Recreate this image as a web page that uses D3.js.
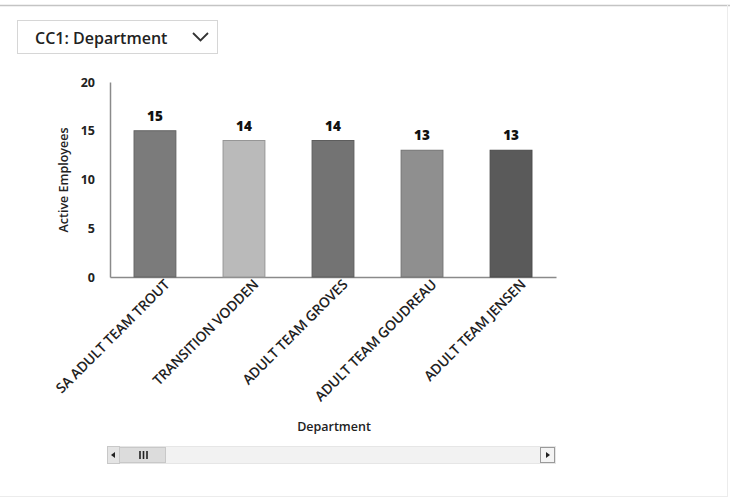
<!DOCTYPE html>
<html>
<head>
<meta charset="utf-8">
<script src="https://cdn.jsdelivr.net/npm/d3@7/dist/d3.min.js"></script>
<style>
  html, body { margin: 0; padding: 0; background: #fff; }
  svg { display: block; font-family: "Open Sans", "Noto Sans", sans-serif; }
</style>
</head>
<body>
<svg id="chart" width="730" height="501"></svg>
<script>
// Active employees per department
const departments = ["SA ADULT TEAM TROUT", "TRANSITION VODDEN", "ADULT TEAM GROVES", "ADULT TEAM GOUDREAU", "ADULT TEAM JENSEN"];
const employees = [15, 14, 14, 13, 13];
const barColors = ["#7b7b7b", "#bababa", "#737373", "#8f8f8f", "#5a5a5a"];
const yTicks = [0, 5, 10, 15, 20];

const svg = d3.select("#chart");

// Panel frame
svg.append("line").attr("x1", 0).attr("x2", 730).attr("y1", 5.5).attr("y2", 5.5)
  .attr("stroke", "#c4c4c4").attr("stroke-width", 1.5);
svg.append("line").attr("x1", 727.5).attr("x2", 727.5).attr("y1", 5).attr("y2", 497)
  .attr("stroke", "#ececec");
svg.append("line").attr("x1", 0).attr("x2", 728).attr("y1", 496.5).attr("y2", 496.5)
  .attr("stroke", "#ececec");

// Dropdown selector
const dd = svg.append("g");
dd.append("rect").attr("x", 17.5).attr("y", 20.5).attr("width", 200).attr("height", 33)
  .attr("fill", "#fff").attr("stroke", "#d6d6d6");
dd.append("text").attr("x", 35).attr("y", 43.5).attr("font-size", 16).attr("font-weight", 600)
  .attr("fill", "#222").text("CC1: Department");
dd.append("path").attr("d", "M193,33 L200.5,40.5 L208,33").attr("fill", "none")
  .attr("stroke", "#333").attr("stroke-width", 1.8);

// Scales
const x = d3.scaleBand().domain(departments).range([110, 556]).paddingInner(0.53).paddingOuter(0.27);
const y = d3.scaleLinear().domain([0, 20]).range([277, 82]);

// Y axis
const yAxis = svg.append("g").attr("transform", "translate(110,0)")
  .call(d3.axisLeft(y).tickValues(yTicks).tickSize(0).tickPadding(15));
yAxis.select(".domain").attr("stroke", "#8a8a8a").attr("stroke-width", 1.5);
yAxis.selectAll("text").attr("font-size", 12.5).attr("font-weight", 700).attr("fill", "#222")
  .attr("font-family", "'Open Sans', sans-serif");

// X axis with rotated category labels
const xAxis = svg.append("g").attr("transform", "translate(0,277)")
  .call(d3.axisBottom(x).tickSize(0).tickPadding(8));
xAxis.select(".domain").attr("stroke", "#8a8a8a").attr("stroke-width", 1.5);
xAxis.selectAll("text")
  .attr("font-size", 14).attr("font-weight", 600).attr("fill", "#222")
  .attr("font-family", "'Open Sans', sans-serif")
  .attr("letter-spacing", "-0.2px")
  .attr("text-anchor", "end")
  .attr("dy", "0.35em")
  .attr("transform", "translate(12,5) rotate(-45)")
  .attr("x", 0).attr("y", 0);

// Bars
svg.append("g").selectAll("rect").data(departments).join("rect")
  .attr("x", d => x(d))
  .attr("y", (d, i) => y(employees[i]))
  .attr("width", x.bandwidth())
  .attr("height", (d, i) => y(0) - y(employees[i]))
  .attr("fill", (d, i) => barColors[i])
  .attr("stroke", (d, i) => d3.color(barColors[i]).darker(0.6))
  .attr("stroke-width", 1);

// Value labels
svg.append("g").selectAll("text").data(departments).join("text")
  .attr("x", d => x(d) + x.bandwidth() / 2)
  .attr("y", (d, i) => y(employees[i]) - 10)
  .attr("text-anchor", "middle")
  .attr("font-size", 13.5).attr("font-weight", 800).attr("fill", "#111")
  .text((d, i) => employees[i]);

// Axis titles
svg.append("text").attr("transform", "translate(68,180) rotate(-90)")
  .attr("text-anchor", "middle").attr("font-size", 12.5).attr("font-weight", 600).attr("fill", "#222")
  .text("Active Employees");
svg.append("text").attr("x", 334).attr("y", 431)
  .attr("text-anchor", "middle").attr("font-size", 12.5).attr("font-weight", 600).attr("fill", "#222")
  .text("Department");

// Horizontal scrollbar
const sb = svg.append("g");
sb.append("rect").attr("x", 107.5).attr("y", 446.5).attr("width", 448).attr("height", 17)
  .attr("fill", "#f2f2f2").attr("stroke", "#e6e6e6");
sb.append("rect").attr("x", 107.5).attr("y", 446.5).attr("width", 12).attr("height", 17)
  .attr("fill", "#e4e4e4").attr("stroke", "#c8c8c8");
sb.append("path").attr("d", "M111,455 L115,452 L115,458 Z").attr("fill", "#222");
sb.append("rect").attr("x", 119.5).attr("y", 447.5).attr("width", 46).attr("height", 15)
  .attr("fill", "#dcdcdc").attr("stroke", "#c8c8c8");
[140, 143.5, 147].forEach(gx => {
  sb.append("line").attr("x1", gx).attr("x2", gx).attr("y1", 451).attr("y2", 459)
    .attr("stroke", "#222").attr("stroke-width", 1.6);
});
sb.append("rect").attr("x", 540.5).attr("y", 447.5).attr("width", 14).attr("height", 15)
  .attr("fill", "#f4f4f4").attr("stroke", "#9a9a9a");
sb.append("path").attr("d", "M546,452 L550,455 L546,458 Z").attr("fill", "#222");
</script>
</body>
</html>
